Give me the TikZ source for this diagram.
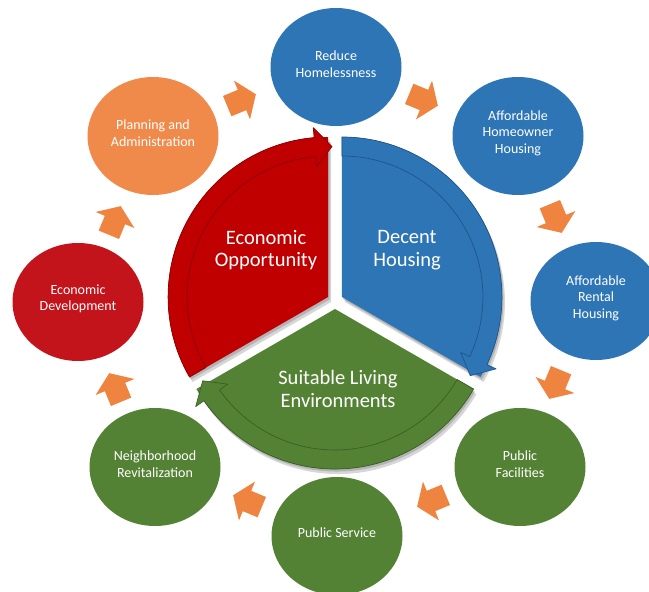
\documentclass[tikz,border=0pt]{standalone}
\usepackage{fontspec}
\setmainfont{Carlito}
\usetikzlibrary{shapes.geometric}
\definecolor{cred}{HTML}{C00000}
\definecolor{credd}{HTML}{8A0000}
\definecolor{cblue}{HTML}{2E75B6}
\definecolor{cblued}{HTML}{1F5489}
\definecolor{cgreen}{HTML}{548235}
\definecolor{cgreend}{HTML}{3A5E24}
\definecolor{corange}{HTML}{F08A4B}
\definecolor{carrow}{HTML}{EE8440}
\definecolor{cedred}{HTML}{C4141B}
\begin{document}
\begin{tikzpicture}[x=1pt,y=1pt,
  goal/.style={ellipse, minimum width=131pt, minimum height=118pt, inner sep=0pt},
  goaltext/.style={text=white, align=center, inner sep=0pt, font=\fontsize{14}{16.4}\selectfont},
  seglabel/.style={text=white, align=center, inner sep=0pt, font=\fontsize{20.5}{22.7}\selectfont},
  segshadow/.style={fill=black, opacity=0.16},
  blockarrow/.pic={\fill[carrow] (-16,-11) -- (0,-11) -- (0,-21) -- (15,0) -- (0,21) -- (0,11) -- (-16,11) -- cycle;}
]
\clip (0,-592) rectangle (649,0);
\fill[white] (0,-592) rectangle (649,0);

% outer goal ellipses
\node[goal, fill=cblue]  (rh)  at (336,-67)  {};
\node[goal, fill=cblue]  (ahh) at (518,-136) {};
\node[goal, fill=cblue]  (arh) at (596,-301) {};
\node[goal, fill=cgreen] (pf)  at (520,-467) {};
\node[goal, fill=cgreen] (ps)  at (337,-536) {};
\node[goal, fill=cgreen] (nr)  at (155,-467) {};
\node[goal, fill=cedred] (ed)  at (78,-302)  {};
\node[goal, fill=corange] (pa) at (153,-136) {};

\node[goaltext] (rht)  at ([yshift=3]rh.center)  {Reduce\\Homelessness};
\node[goaltext] (ahht) at ([yshift=3]ahh.center) {Affordable\\Homeowner\\Housing};
\node[goaltext] (arht) at ([yshift=3]arh.center) {Affordable\\Rental\\Housing};
\node[goaltext] (pft)  at ([yshift=3]pf.center)  {Public\\Facilities};
\node[goaltext] (pst)  at ([yshift=3]ps.center)  {Public Service};
\node[goaltext] (nrt)  at ([yshift=3]nr.center)  {Neighborhood\\Revitalization};
\node[goaltext] (edt)  at ([yshift=3]ed.center)  {Economic\\Development};
\node[goaltext] (pat)  at ([yshift=3]pa.center)  {Planning and\\Administration};

% orange block arrows
\coordinate (a1) at (242,-100);
\coordinate (a2) at (424,-100);
\coordinate (a3) at (556,-219);
\coordinate (a4) at (555,-385);
\coordinate (a5) at (431,-501);
\coordinate (a6) at (247,-501);
\coordinate (a7) at (115,-387);
\coordinate (a8) at (115,-220);
\pic[rotate=22.5]   at (a1) {blockarrow};
\pic[rotate=-22.5]  at (a2) {blockarrow};
\pic[rotate=-67.5]  at (a3) {blockarrow};
\pic[rotate=-112.5] at (a4) {blockarrow};
\pic[rotate=-157.5] at (a5) {blockarrow};
\pic[rotate=157.5]  at (a6) {blockarrow};
\pic[rotate=112.5]  at (a7) {blockarrow};
\pic[rotate=67.5]   at (a8) {blockarrow};

% centres of the exploded pie
\coordinate (cr) at (328.07,-297);
\coordinate (cb) at (341.93,-297);
\coordinate (cg) at (335,-309);

% shadows
\foreach \dx/\dy in {1.5/-2.5, 3/-5}{
  \fill[segshadow] ([shift={(\dx,\dy)}]cr) -- +(90:160) arc[start angle=90,end angle=210,radius=160] -- cycle;
  \fill[segshadow] ([shift={(\dx,\dy)}]cb) -- +(-30:160) arc[start angle=-30,end angle=90,radius=160] -- cycle;
  \fill[segshadow] ([shift={(\dx,\dy)}]cg) -- +(210:160) arc[start angle=210,end angle=330,radius=160] -- cycle;
}

% red segment
\begin{scope}[shift={(cr)}]
  \fill[cred] (0,0) -- (90:160) arc[start angle=90,end angle=210,radius=160] -- cycle;
  \filldraw[fill=cred, draw=credd, line width=0.7pt, line join=round]
    (210:160) arc[start angle=210,end angle=95,radius=160] -- (95:170) -- (88.5:150.5)
    -- (95:131) -- (95:141) arc[start angle=95,end angle=210,radius=141] -- cycle;
\end{scope}
% blue segment
\begin{scope}[shift={(cb)}]
  \fill[cblue] (0,0) -- (-30:160) arc[start angle=-30,end angle=90,radius=160] -- cycle;
  \filldraw[fill=cblue, draw=cblued, line width=0.7pt, line join=round]
    (90:160) arc[start angle=90,end angle=-25,radius=160] -- (-25:170) -- (-31.5:150.5)
    -- (-25:131) -- (-25:141) arc[start angle=-25,end angle=90,radius=141] -- cycle;
\end{scope}
% green segment
\begin{scope}[shift={(cg)}]
  \fill[cgreen] (0,0) -- (210:160) arc[start angle=210,end angle=330,radius=160] -- cycle;
  \filldraw[fill=cgreen, draw=cgreend, line width=0.7pt, line join=round]
    (330:160) arc[start angle=330,end angle=215,radius=160] -- (215:170) -- (208.5:150.5)
    -- (215:131) -- (215:141) arc[start angle=215,end angle=330,radius=141] -- cycle;
\end{scope}

\node[seglabel] (eo)  at (266,-250) {Economic\\Opportunity};
\node[seglabel] (dh)  at (407,-250) {Decent\\Housing};
\node[seglabel] (sle) at (338,-389) {Suitable Living\\Environments};
\end{tikzpicture}
\end{document}
